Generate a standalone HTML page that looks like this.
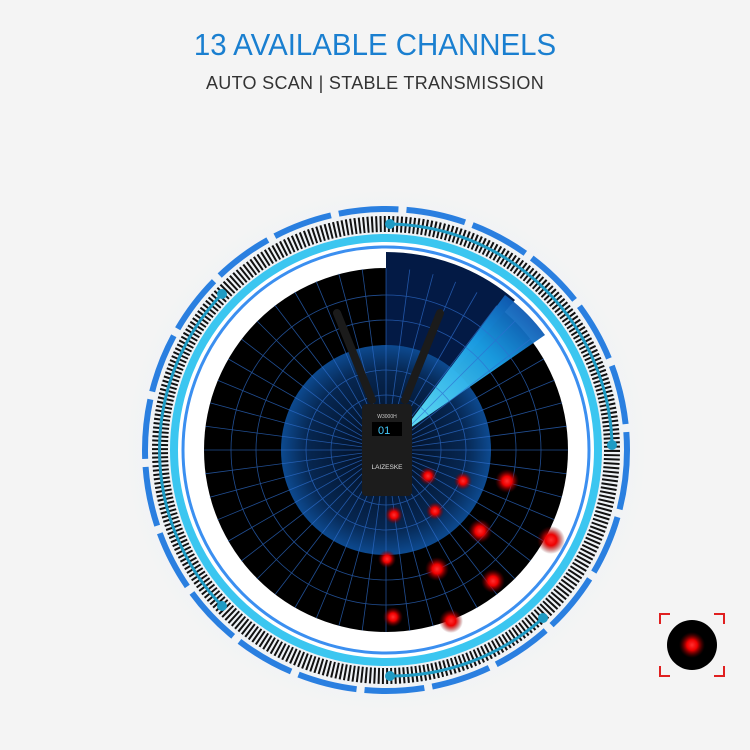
<!DOCTYPE html>
<html><head><style>
body{margin:0;width:750px;height:750px;background:#f4f4f4;overflow:hidden;font-family:"Liberation Sans",sans-serif}
.t{position:absolute;left:0;width:750px;text-align:center}
</style></head><body>
<div class="t" style="top:27px;font-size:31px;color:#1a7fd0;letter-spacing:0px;transform:scaleX(0.95)">13 AVAILABLE CHANNELS</div>
<div class="t" style="top:73px;font-size:18px;color:#333;letter-spacing:0.3px">AUTO SCAN | STABLE TRANSMISSION</div>
<svg width="750" height="750" style="position:absolute;left:0;top:0">
<defs>
<radialGradient id="halo"><stop offset="0.85" stop-color="#eef2f6"/><stop offset="1" stop-color="#f4f4f4"/></radialGradient>
<radialGradient id="inner"><stop offset="0" stop-color="#020a1a"/><stop offset="0.75" stop-color="#062650"/><stop offset="1" stop-color="#0d4a90"/></radialGradient>
<linearGradient id="beam" x1="0" y1="1" x2="1" y2="0"><stop offset="0" stop-color="#6ff0ff"/><stop offset="0.6" stop-color="#1aa0e8"/><stop offset="1" stop-color="#0a3a9a"/></linearGradient>
<radialGradient id="red"><stop offset="0" stop-color="#ff3030"/><stop offset="0.4" stop-color="#e00"/><stop offset="1" stop-color="#600" stop-opacity="0"/></radialGradient>
</defs>
<circle cx="386" cy="450" r="262" fill="url(#halo)"/>
<circle cx="386" cy="450" r="241" fill="none" stroke="#2a7fe0" stroke-width="6" stroke-dasharray="60 8"/>
<circle cx="386" cy="450" r="226" fill="none" stroke="#111" stroke-width="16" stroke-dasharray="2 2.2"/>
<circle cx="386" cy="450" r="212" fill="#fff" stroke="#3bc6f0" stroke-width="8"/>
<circle cx="386" cy="450" r="203" fill="none" stroke="#3b8ff0" stroke-width="3"/>
<circle cx="386" cy="450" r="182" fill="#000"/>
<path d="M386 450 L386 252 A198 198 0 0 1 515 300 Z" fill="#031a45"/>
<circle cx="386" cy="450" r="105" fill="url(#inner)"/>
<path d="M400 435 L505 295 A185 185 0 0 1 545 335 Z" fill="url(#beam)" opacity="0.95"/>
<g stroke="#2f6fd0" stroke-width="0.8" fill="none" opacity="0.7">
<circle cx="386" cy="450" r="130"/><circle cx="386" cy="450" r="155"/><circle cx="386" cy="450" r="80"/><circle cx="386" cy="450" r="55"/>
<g id="sp">
<line x1="386" y1="268" x2="386" y2="632"/><line x1="204" y1="450" x2="568" y2="450"/>
<line x1="257" y1="321" x2="515" y2="579"/><line x1="257" y1="579" x2="515" y2="321"/>
</g>
<use href="#sp" transform="rotate(15 386 450)"/><use href="#sp" transform="rotate(30 386 450)"/>
<use href="#sp" transform="rotate(7.5 386 450)"/><use href="#sp" transform="rotate(22.5 386 450)"/><use href="#sp" transform="rotate(37.5 386 450)"/>
</g>
<g stroke="#1f9bc4" stroke-width="3" fill="none">
<path d="M390 224 A226 226 0 0 1 612 445"/>
<path d="M222 294 A226 226 0 0 0 222 606"/>
<path d="M390 676 A226 226 0 0 0 543 618"/>
</g>
<g fill="#1f9bc4"><circle cx="390" cy="224" r="5"/><circle cx="612" cy="445" r="5"/><circle cx="222" cy="294" r="5"/><circle cx="222" cy="606" r="5"/><circle cx="390" cy="676" r="5"/><circle cx="543" cy="618" r="5"/></g>
<g stroke="#1b1b1b" stroke-width="8" stroke-linecap="round">
<line x1="337" y1="313" x2="372" y2="400"/><line x1="440" y1="313" x2="405" y2="400"/>
</g>
<rect x="362" y="404" width="50" height="92" rx="4" fill="#1c1c1c"/>
<rect x="372" y="422" width="30" height="14" fill="#000"/>
<text x="378" y="434" font-size="11" fill="#4cf">01</text>
<text x="387" y="418" font-size="5" fill="#ccc" text-anchor="middle">W3000H</text>
<text x="387" y="469" font-size="6.5" fill="#ddd" text-anchor="middle">LAIZESKE</text>
<g fill="url(#red)">
<circle cx="428" cy="476" r="9"/><circle cx="463" cy="481" r="9"/><circle cx="507" cy="481" r="12"/>
<circle cx="394" cy="515" r="9"/><circle cx="435" cy="511" r="9"/><circle cx="480" cy="531" r="12"/><circle cx="551" cy="540" r="14"/>
<circle cx="387" cy="559" r="9"/><circle cx="437" cy="569" r="12"/><circle cx="493" cy="581" r="12"/>
<circle cx="393" cy="617" r="10"/><circle cx="451" cy="621" r="12"/>
</g>
<circle cx="692" cy="645" r="25" fill="#000"/>
<circle cx="692" cy="645" r="13" fill="url(#red)"/>
<g stroke="#e02020" stroke-width="2" fill="none">
<path d="M660 624 V614 H670"/><path d="M714 614 H724 V624"/><path d="M660 666 V676 H670"/><path d="M714 676 H724 V666"/>
</g>
</svg>
</body></html>
